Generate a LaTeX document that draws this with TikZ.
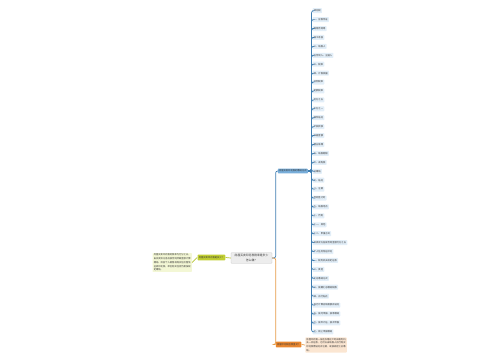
\documentclass[tikz,border=0pt]{standalone}
\usepackage{fontspec}
\newfontfamily\cjk{Noto Sans CJK SC}
\usetikzlibrary{positioning}
\definecolor{spineblue}{HTML}{3F7DB0}
\definecolor{branchblue}{HTML}{78AEDA}
\definecolor{leafblue}{HTML}{E2EEF8}
\definecolor{rootgray}{HTML}{EDEDED}
\definecolor{rootline}{HTML}{C4C4C4}
\definecolor{olivefill}{HTML}{C1CE33}
\definecolor{oliveline}{HTML}{B7C431}
\definecolor{oliveleaf}{HTML}{F3F7D5}
\definecolor{orangefill}{HTML}{E9872F}
\definecolor{orangeline}{HTML}{E59A45}
\definecolor{orangeleaf}{HTML}{FBE6D2}
\definecolor{textgray}{HTML}{333333}

\begin{document}
\begin{tikzpicture}[x=1pt, y=-1pt, line width=0.7pt,
                every node/.style={
                        rectangle,
                        rounded corners=0.6pt,
                        inner xsep=1.2pt,
                        inner ysep=0.8pt,
                        text=textgray,
                        font=\cjk\fontsize{2.3}{3.8}\selectfont},
                leaf/.style={fill=leafblue, minimum height=5pt, anchor=west},
                spine/.style={draw=spineblue, rounded corners=2pt},
                olivewire/.style={draw=oliveline},
                orangewire/.style={draw=orangeline, rounded corners=2pt}]

                \useasboundingbox (0,0) rectangle (500,360);

                \node[fill=rootgray, draw=rootline, line width=0.3pt, align=center,
                      minimum width=41pt, minimum height=10.5pt,
                      font=\cjk\fontsize{2.8}{4.2}\selectfont] (root) at (251.5, 258)
                      {房屋买卖印花税税率是多少\\怎么缴？};

                \node[fill=olivefill, minimum height=5.6pt] (howmuch) at (211.4, 257.5)
                      {房屋买卖印花税是多少？};

                \node[fill=oliveleaf, align=left] (howmuchtxt) at (172.2, 262.5)
                      {房屋买卖印花税的税率为万分之五，\\由买卖双方各自按合同所载金额计算\\缴纳。目前个人销售或购买住房暂免\\征收印花税，单位购买住房仍需按规\\定缴纳。};

                \node[fill=branchblue, minimum height=4.6pt, inner ysep=0.4pt] (ways) at (292.8, 171)
                      {房屋买卖印花税的缴纳方式};

                \node[fill=orangefill, minimum height=5.6pt] (where) at (288.6, 344.5)
                      {房屋印花税在哪里交？};

                \node[fill=orangeleaf, align=left] (wheretxt) at (326, 345)
                      {房屋印花税一般在办理过户时由税务机\\关一并征收，也可以由纳税人自行购买\\印花税票贴花并注销，或按规定汇总缴\\纳。};

                % leaves of the blue branch
                \foreach \txt [count=\i] in {印花税, 一、应税凭证, 购销合同等, 加工承揽,
                        二、纳税人, 立合同人、立据人, 三、税率, 四、计税依据, 比例税率,
                        定额税率, 万分之五, 千分之一, 按件贴花, 产权转移, 书据金额,
                        营业账簿, 五、纳税期限, 六、减免税, 已缴纳, 七、贴花, 八、注销,
                        合同签订时, 九、纳税地点, 十、罚则, 十一、其他, 十二、申报方式,
                        买卖双方各按合同金额万分之五, 个人住房免征印花, 一、税务机关核定征收,
                        二、其他, 汇总缴纳方式, 三、按期汇总缴纳税款, 四、自行贴花,
                        自行计算应纳税额并贴花, 五、按月申报、按季缴纳, 六、按年计征、按次申报,
                        七、网上申报缴纳}
                {
                        \node[leaf] (l\i) at (312.3, {10.7+(\i-1)*8.92}) {\txt};
                        \draw[spine] (ways.east) -- ++(3.4,0) |- (l\i.west);
                }

                \draw[spine] (root.east) -- ++(3.5,0) |- (ways.west);
                \draw[orangewire] (root.east) -- ++(3.5,0) |- (where.west);
                \draw[orangewire] (where.east) -- (wheretxt.west);
                \draw[olivewire] (root.west) -- (howmuch.east);
                \draw[olivewire] (howmuch.west) -- (howmuchtxt.east);
            \end{tikzpicture}
\end{document}
